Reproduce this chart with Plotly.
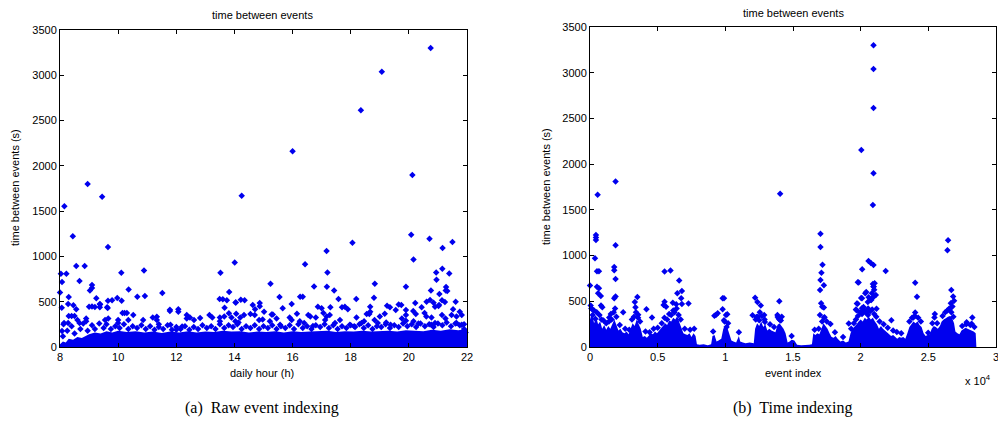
import plotly.graph_objects as go

# ---------------- data ----------------
# Left panel: daily hour (h) vs time between events (s)
left_high = [(8.95,1800),(9.45,1660),(14.25,1670),(16.0,2160),(18.35,2615),(19.07,3040),
             (20.75,3300),(20.12,1900),(8.15,1555),(8.44,1224),(9.65,1103),(18.06,1150),
             (20.08,1239),(20.71,1195),(21.5,1158),(21.16,1092),(17.17,1059),(20.16,967),
             (14.01,934),(16.43,915)]
left_mid = [(8.56,893),(8.85,893),(8.67,728),(8.03,809),(8.07,717),(8.22,809),(8.0,603),
            (10.11,820),(10.89,845),(9.1,684),(9.1,651),(9.03,625),(8.3,551),(9.25,537),
            (10.36,636),(10.66,555),(10.92,562),(11.52,595),(9.65,511),(9.79,515),(9.97,540),
            (10.12,511),(9.64,430),(9.38,470),(13.52,820),(13.49,529),(13.6,526),(13.74,515),
            (14.22,522),(14.35,515),(13.82,607),(14.05,492),(15.24,698),(15.55,551),(16.26,555),
            (16.35,555),(16.74,669),(17.2,823),(17.18,665),(17.43,625),(17.58,529),(18.19,529),
            (18.83,698),(18.8,544),(19.9,665),(20.22,485),(21.15,864),(20.94,823),(20.95,742),
            (20.76,625),(21.39,812),(21.28,662),(21.32,618),(21.61,500),(21.14,515),(21.02,452),
            (20.85,489),(20.73,519),(20.61,500),(21.05,585),(21.27,625),(21.24,497),(20.9,445),
            (21.04,464),(21.52,416)]
left_low = [(8.06,434),(8.28,475),(8.46,460),(8.56,416),(9.0,445),(9.1,448),(9.2,442),(9.37,475),
            (9.37,438),(9.62,438),(10.15,375),(10.22,375),(10.3,375),(10.52,353),(11.78,410),
            (11.78,397),(12.07,416),(12.07,390),(12.36,353),(12.36,316),(11.19,327),(11.33,335),
            (10.86,298),(9.66,316),(9.55,298),(8.3,342),(8.4,342),(8.5,342),(8.14,265),(8.28,265),
            (8.6,298),(8.67,265),(8.9,316),(8.9,283),(10.0,298),(10.0,265),(10.35,298),(11.33,298),
            (11.4,250),(11.8,245),(12.0,190),(12.2,225),(8.07,177),(8.12,250),(12.47,327),
            (12.61,298),(12.82,320),(13.14,353),(13.24,327),(13.5,327),(13.5,283),(13.66,434),
            (13.81,372),(13.65,338),(13.9,327),(14.06,368),(14.2,327),(14.33,353),(14.03,283),
            (14.14,270),(14.63,463),(14.71,416),(14.87,486),(14.87,449),(14.55,364),(14.7,353),
            (14.85,298),(14.97,305),(15.02,390),(15.28,360),(15.32,360),(15.22,283),(15.45,316),
            (15.66,427),(15.57,247),(15.9,327),(15.97,298),(15.97,475),(16.15,368),(16.54,353),
            (16.61,338),(16.25,283),(16.4,265),(16.87,445),(17.0,427),(17.06,375),(17.17,338),
            (16.8,327),(16.7,231),(17.3,438),(17.28,353),(17.7,438),(17.8,445),(17.9,416),
            (18.2,327),(18.55,364),(18.64,364),(18.67,445),(18.67,390),(19.0,338),(19.17,368),
            (19.25,456),(19.35,438),(19.65,468),(19.74,464),(19.55,408),(19.9,408),(19.9,353),
            (20.15,397),(20.24,364),(20.44,438),(20.54,375),(20.6,338),(20.78,327),(21.14,353),
            (21.26,316),(21.47,353),(21.64,338),(21.75,390),(21.82,353),(21.64,265),(21.82,247),
            (17.46,265),(17.63,298),(17.97,247),(18.12,230),(18.37,265),(18.46,283),(18.82,298),
            (18.93,265),(19.22,270),(19.37,247),(19.76,316),(19.9,290),(20.16,283),(20.33,260),
            (20.77,247),(20.9,265),(17.12,298),(14.04,490),(21.9,200),(21.95,160)]
left_edge = [(8.1,120),(8.25,180),(8.4,230),(8.5,150),(8.7,200),(8.8,260),(8.95,180),(9.1,240),
             (9.2,200),(9.35,260),(9.5,210),(9.6,250),(9.75,200),(9.9,230),(10.05,210),(10.2,250),
             (10.35,200),(10.5,230),(10.65,210),(10.8,240),(10.95,200),(11.1,230),(11.25,190),
             (11.4,220),(11.55,200),(11.7,240),(11.85,190),(12.0,220),(12.15,200),(12.3,230),
             (12.45,190),(12.6,220),(12.75,200),(12.9,240),(13.05,210),(13.2,230),(13.35,200),
             (13.5,250),(13.65,210),(13.8,240),(13.95,220),(14.1,250),(14.25,200),(14.4,230),
             (14.55,210),(14.7,240),(14.85,200),(15.0,230),(15.15,210),(15.3,240),(15.45,200),
             (15.6,230),(15.75,210),(15.9,240),(16.05,200),(16.2,250),(16.35,210),(16.5,230),
             (16.65,200),(16.8,240),(16.95,220),(17.1,250),(17.25,210),(17.4,240),(17.55,200),
             (17.7,230),(17.85,210),(18.0,240),(18.15,220),(18.3,250),(18.45,210),(18.6,240),
             (18.75,200),(18.9,230),(19.05,220),(19.2,250),(19.35,210),(19.5,240),(19.65,220),
             (19.8,260),(19.95,230),(20.1,250),(20.25,220),(20.4,260),(20.55,230),(20.7,250),
             (20.85,220),(21.0,260),(21.15,240),(21.3,270),(21.45,230),(21.6,260),(21.75,240),
             (21.9,250)]
# dense band envelope (solid region) of the left panel
left_band_hour = [8.0,8.1,8.2,8.3,8.45,8.6,8.75,9.0,9.2,9.4,9.6,9.8,10.0,10.3,10.6,10.9,11.2,11.5,
                  11.8,12.1,12.4,12.7,13.0,13.3,13.6,13.9,14.2,14.5,14.8,15.1,15.4,15.7,16.0,16.3,
                  16.6,16.9,17.2,17.5,17.8,18.1,18.4,18.7,19.0,19.3,19.6,19.9,20.2,20.5,20.8,21.1,
                  21.4,21.7,22.0]
left_band_sec = [30,60,50,90,80,110,100,140,160,150,175,160,180,165,175,160,170,155,170,160,175,
                 160,170,165,180,170,175,160,170,165,175,160,175,165,170,175,180,165,175,170,180,
                 170,175,180,170,185,180,175,190,180,195,185,200]

# Right panel: event index vs time between events (s)
right_high = [(20950,3300),(20950,3040),(20950,2615),(20050,2155),(20950,1900),(565,1666),
              (1890,1810),(14050,1677),(20900,1553),(440,1225),(440,1199),(440,1170),(17030,1239),
              (1890,1112),(17030,1095),(26460,1167),(26410,1057),(367,970),(20580,940),
              (20750,918),(20950,897),(17180,900)]
right_mid = [(1790,875),(1790,839),(1890,744),(515,829),(662,829),(0,672),(515,660),(662,642),
             (600,587),(800,558),(1790,533),(1890,551),(5510,825),(5950,836),(6590,726),(6790,613),
             (6450,587),(6740,532),(6790,470),(5510,495),(5440,459),(5620,441),(6120,485),
             (6370,467),(7280,475),(3500,547),(3310,492),(3360,434),(3560,354),(4170,414),
             (4580,324),(2450,379),(1540,361),(1420,324),(50,453),(150,416),(812,453),(910,434),
             (9190,343),(9300,350),(9800,533),(9900,533),(9800,412),(10140,358),(9900,293),
             (10090,220),(10049,349),(12200,540),(12370,493),(12620,453),(12010,346),(12300,328),
             (12500,292),(12920,274),(13990,500),(13870,328),(14020,299),(17100,813),(17030,733),
             (17280,675),(17000,624),(17080,478),(17280,431),(16990,350),(17330,325),(17770,252),
             (19790,709),(19720,475),(19650,409),(20110,850),(21850,832),(19850,705),(20900,690),
             (20950,660),(21000,625),(21120,568),(20950,547),(20750,518),(20040,536),(19770,474),
             (20410,602),(20530,492),(20210,438),(21170,419),(19700,401),(20210,383),(22270,292),
             (24030,703),(24160,550),(24030,376),(23890,324),(25480,361),(25450,324),(24990,157),
             (26700,624),(26830,552),(26900,507),(26660,478),(26780,442),(26560,412),(28250,324),
             (27830,270),(28200,255),(26190,270),(20100,533),(20340,588),(20830,588),(20590,544),
             (20780,515),(20100,423),(20340,386),(20540,349),(20960,662),(21030,698),(22670,165),
             (19120,257),(12870,349),(13850,349),(14170,331),(9436,368),(17160,441)]
right_edge = [(100,420),(200,350),(300,400),(400,310),(500,380),(700,350),(850,300),(1000,290),
              (1200,260),(1400,280),(1600,300),(1750,380),(1850,420),(1950,330),(2200,240),
              (2600,200),(2900,190),(3100,300),(3250,330),(3400,380),(3550,320),(3700,280),
              (4100,170),(4400,160),(4700,200),(5000,210),(5300,260),(5500,320),(5700,300),
              (5850,360),(6000,350),(6150,400),(6250,380),(6400,420),(6550,350),(6700,300),
              (7000,200),(7400,190),(7700,200),(9100,170),(9950,280),(10200,260),(11000,160),
              (12250,300),(12400,330),(12550,380),(12700,340),(12900,300),(13300,250),(13600,220),
              (13950,310),(14100,290),(14900,120),(16600,190),(16900,200),(17150,280),(17300,320),
              (17500,280),(18100,160),(18700,110),(19300,200),(19500,260),(19650,300),(19800,340),
              (19950,380),(20100,360),(20250,400),(20400,380),(20550,420),(20700,390),(20850,410),
              (21000,360),(21150,330),(21400,280),(21700,250),(22000,210),(22400,180),(23000,150),
              (23600,280),(23800,320),(24000,340),(24250,320),(24450,280),(25300,260),(25650,260),
              (26050,340),(26250,380),(26400,400),(26550,420),(26700,380),(26850,330),(27500,230),
              (27800,250),(28100,240),(28400,220)]
# dense band envelope (solid region) of the right panel
right_band_idx = [0,150,300,450,600,750,900,1050,1200,1350,1500,1650,1800,1950,2100,2250,2400,2550,
                  2700,2850,3000,3150,3300,3450,3600,3750,3900,4050,4200,4350,4500,4650,4800,4950,
                  5100,5250,5400,5550,5700,5850,6000,6150,6300,6450,6600,6750,6900,7050,7200,7350,
                  7500,7650,7800,7900,8100,8400,8700,8950,9050,9200,9350,9500,9700,9850,10000,10150,
                  10300,10450,10600,10800,11000,11100,11300,11500,11800,12100,12200,12350,12500,
                  12650,12800,12950,13100,13250,13400,13550,13700,13850,14000,14150,14300,14450,
                  14600,14750,14900,15100,15300,15600,15900,16200,16400,16500,16650,16800,16950,
                  17100,17250,17400,17550,17700,17850,18000,18150,18300,18500,18700,18900,19100,
                  19250,19400,19550,19700,19850,20000,20150,20300,20450,20600,20750,20900,21050,
                  21200,21350,21500,21650,21800,21950,22100,22250,22400,22550,22700,22850,23000,
                  23150,23300,23450,23600,23750,23900,24050,24200,24350,24500,24650,24800,24950,
                  25100,25250,25400,25550,25700,25850,26000,26150,26300,26450,26600,26750,26900,
                  27000,27150,27300,27450,27600,27750,27900,28050,28200,28350,28500,28550]
right_band_sec = [300,380,260,330,250,280,200,240,190,230,200,260,300,240,180,200,160,150,
                  170,140,200,260,230,300,250,200,110,120,100,120,150,140,170,150,
                  180,200,230,260,240,290,280,320,300,340,270,220,150,140,130,150,
                  110,150,120,30,25,30,20,30,120,130,60,70,90,200,230,210,
                  150,70,60,50,120,60,50,40,50,40,200,260,230,
                  280,220,250,180,200,180,170,160,240,260,230,200,150,
                  50,60,80,70,25,20,20,25,30,150,130,150,140,
                  200,260,230,200,150,110,100,120,90,60,70,50,60,
                  150,200,220,250,280,300,280,320,300,330,300,320,280,
                  250,200,230,200,180,160,140,120,130,110,90,110,100,
                  110,90,150,220,250,280,260,280,240,220,150,120,130,
                  140,200,230,220,200,230,280,300,320,330,340,320,260,
                  170,150,140,180,200,210,200,190,180,170,150,0]

x_ticks_right = [0, 5000, 10000, 15000, 20000, 25000, 30000]
x_ticktext_right = ["0", "0.5", "1", "1.5", "2", "2.5", "3"]
y_ticks = [0, 500, 1000, 1500, 2000, 2500, 3000, 3500]
x_ticks_left = [8, 10, 12, 14, 16, 18, 20, 22]

# ---------------- figure ----------------
W, H = 998, 425
BLUE = "#0000ee"
MSIZE = 5


def px(x, y):
    return x / W, 1 - y / H


fig = go.Figure()

# left band
fig.add_trace(go.Scatter(x=left_band_hour, y=left_band_sec, mode="lines", fill="tozeroy",
                         line=dict(width=0, color=BLUE), fillcolor=BLUE,
                         xaxis="x", yaxis="y", hoverinfo="skip", showlegend=False))
for pts in (left_edge, left_low, left_mid, left_high):
    fig.add_trace(go.Scatter(x=[p[0] for p in pts], y=[p[1] for p in pts], mode="markers",
                             marker=dict(symbol="diamond", size=MSIZE, color=BLUE, line=dict(width=0)),
                             xaxis="x", yaxis="y", showlegend=False, cliponaxis=False))

# right band
fig.add_trace(go.Scatter(x=right_band_idx, y=right_band_sec, mode="lines", fill="tozeroy",
                         line=dict(width=0, color=BLUE), fillcolor=BLUE,
                         xaxis="x2", yaxis="y2", hoverinfo="skip", showlegend=False))
for pts in (right_edge, right_mid, right_high):
    fig.add_trace(go.Scatter(x=[p[0] for p in pts], y=[p[1] for p in pts], mode="markers",
                             marker=dict(symbol="diamond", size=MSIZE, color=BLUE, line=dict(width=0)),
                             xaxis="x2", yaxis="y2", showlegend=False, cliponaxis=False))

axis_common = dict(showline=True, linecolor="black", linewidth=1, mirror="ticks",
                   ticks="inside", ticklen=4, tickcolor="black", showgrid=False, zeroline=False,
                   automargin=False,
                   tickfont=dict(family="Liberation Sans, Arial, sans-serif", size=11, color="black"))

fig.update_layout(
    template="none",
    width=W, height=H, autosize=False,
    margin=dict(l=0, r=0, t=0, b=0, pad=0),
    paper_bgcolor="white", plot_bgcolor="white",
    showlegend=False,
    xaxis=dict(domain=[60 / W, 467 / W], range=[8, 22], tickvals=x_ticks_left,
               anchor="y", **axis_common),
    yaxis=dict(domain=[1 - 347 / H, 1 - 30 / H], range=[0, 3500], tickvals=y_ticks,
               anchor="x", **axis_common),
    xaxis2=dict(domain=[590 / W, 996 / W], range=[0, 30000], tickvals=x_ticks_right,
                ticktext=x_ticktext_right, anchor="y2", ticklabeloverflow="allow",
                **axis_common),
    yaxis2=dict(domain=[1 - 347 / H, 1 - 27 / H], range=[0, 3500], tickvals=y_ticks,
                anchor="x2", **axis_common),
)

font_s = dict(family="Liberation Sans, Arial, sans-serif", size=11, color="black")
font_cap = dict(family="Liberation Serif, Times New Roman, serif", size=16, color="black")


def ann(x, y, text, font, angle=0, xanchor="center"):
    ax, ay = px(x, y)
    fig.add_annotation(x=ax, y=ay, xref="paper", yref="paper", text=text, showarrow=False,
                       font=font, textangle=angle, xanchor=xanchor, yanchor="middle")


ann(262, 15, "time between events", font_s)
ann(793, 13, "time between events", font_s)
ann(15, 188, "time between events (s)", font_s, -90)
ann(546, 187, "time between events (s)", font_s, -90)
ann(262, 373, "daily hour (h)", font_s)
ann(793, 373, "event index", font_s)
ann(993, 380, "x 10<sup>4</sup>", font_s, xanchor="right")
ann(262, 408, "(a)  Raw event indexing", font_cap)
ann(793, 408, "(b)  Time indexing", font_cap)

fig.write_html("out.html", config={"displayModeBar": False},
               post_script="document.body.style.margin='0';document.body.style.overflow='hidden';")
